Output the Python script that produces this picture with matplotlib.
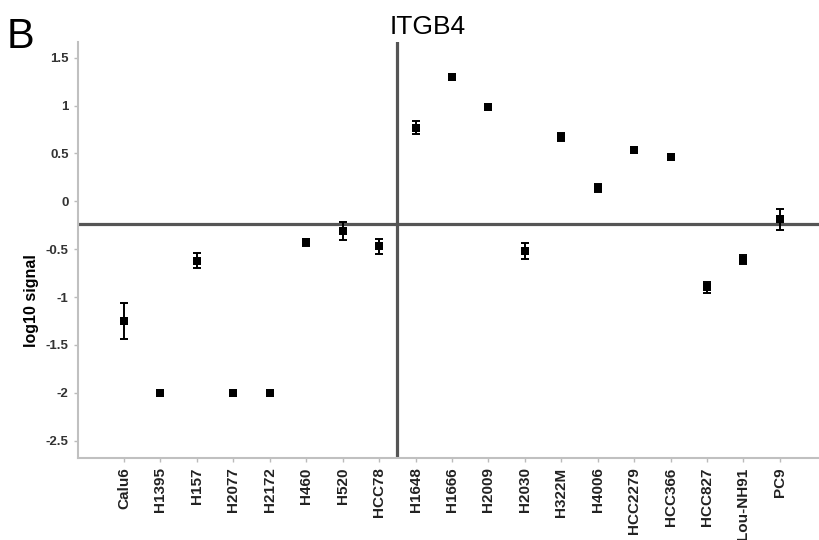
import numpy as np
import matplotlib
matplotlib.use("Agg")
import matplotlib.pyplot as plt

plt.rcParams["font.family"] = ["Liberation Sans", "DejaVu Sans"]

# cell lines and log10 signal (mean, error)
cell_lines = ["Calu6", "H1395", "H157", "H2077", "H2172", "H460", "H520", "HCC78",
              "H1648", "H1666", "H2009", "H2030", "H322M", "H4006", "HCC2279",
              "HCC366", "HCC827", "Lou-NH91", "PC9"]
signal = [-1.25, -2.0, -0.62, -2.0, -2.0, -0.43, -0.31, -0.47,
          0.77, 1.30, 0.99, -0.52, 0.67, 0.14, 0.54,
          0.46, -0.90, -0.61, -0.19]
err = [0.19, 0.0, 0.08, 0.0, 0.0, 0.04, 0.09, 0.08,
       0.07, 0.0, 0.0, 0.08, 0.04, 0.04, 0.03,
       0.0, 0.06, 0.05, 0.11]
yticks = [1.5, 1, 0.5, 0, -0.5, -1, -1.5, -2, -2.5]
ytick_labels = ["1.5", "1", "0.5", "0", "-0.5", "-1", "-1.5", "-2", "-2.5"]
h_cut = -0.24   # horizontal reference line
v_cut = 7.5     # vertical split between groups

x = np.arange(len(cell_lines))
# no whisker where there is no error
has_err = np.array(err) > 0

fig = plt.figure(figsize=(8.2, 5.4), dpi=100)
ax = fig.add_axes([0.0955, 0.1524, 0.9045, 0.7693])

ax.axhline(h_cut, color="#555555", lw=2.3, zorder=1)
ax.axvline(v_cut, color="#555555", lw=2.3, zorder=1)

ax.errorbar(x[has_err], np.array(signal)[has_err], yerr=np.array(err)[has_err],
            fmt="none", ecolor="black", elinewidth=1.4, capsize=2.7,
            capthick=1.4, zorder=3)
ax.plot(x, signal, "s", color="black", ms=5.2, mew=0, zorder=4)

ax.set_xlim(-1.254, 19.1)
ax.set_ylim(-2.678, 1.661)
ax.set_xticks(x)
ax.set_xticklabels(cell_lines, rotation=90, fontsize=11, fontweight="bold",
                   color="#222222")
ax.set_yticks(yticks)
ax.set_yticklabels(ytick_labels, fontsize=9.5, fontweight="bold", color="#333333")
ax.tick_params(axis="both", length=3, width=1, color="#bbbbbb", pad=4)

for s in ["top", "right"]:
    ax.spines[s].set_visible(False)
for s in ["left", "bottom"]:
    ax.spines[s].set_color("#c0c0c0")
    ax.spines[s].set_linewidth(1.5)

fig.text(0.0385, 0.444, "log10 signal", rotation=90, fontsize=11.5,
         fontweight="bold", ha="center", va="center")
fig.text(0.521, 0.937, "ITGB4", fontsize=19, ha="center", va="baseline")
fig.text(0.008, 0.911, "B", fontsize=30, ha="left", va="baseline")

fig.savefig("out.png", dpi=100)
